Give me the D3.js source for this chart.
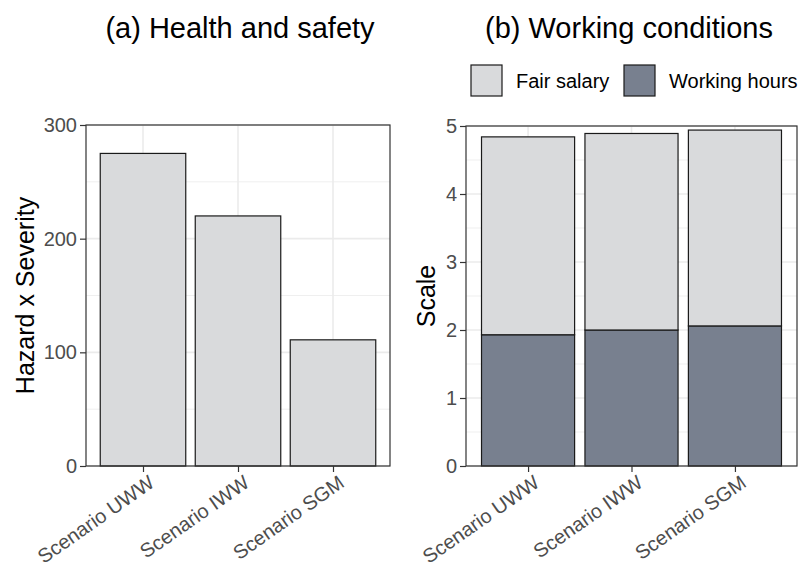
<!DOCTYPE html>
<html>
<head>
<meta charset="utf-8">
<script src="https://cdn.jsdelivr.net/npm/d3@7"></script>
<style>
  body { margin: 0; background: #fff; }
  svg text { font-family: "Liberation Sans", Arial, sans-serif; }
</style>
</head>
<body>
<div id="chart"></div>
<script>
// data
var scenarios = ["Scenario UWW", "Scenario IWW", "Scenario SGM"];
var hazardSeverity = [275, 220, 111];
var workingHours = [1.93, 2.00, 2.06];
var fairSalary = [2.91, 2.89, 2.88];
var seriesNames = ["Fair salary", "Working hours"];
var leftTicks = [0, 100, 200, 300];
var rightTicks = [0, 1, 2, 3, 4, 5];

var svgWidth = 803, svgHeight = 564;
var lightFill = "#d9dadc", darkFill = "#78808f";

var svg = d3.select("#chart").append("svg")
    .attr("width", svgWidth)
    .attr("height", svgHeight);

// draws one panel frame, grid, axes; returns scales
function drawPanel(opts) {
    var g = svg.append("g").attr("transform", `translate(${opts.left}, ${opts.top})`);
    var w = opts.width, h = opts.height;

    // 3 categories, 0.6 expansion each side, bar width 0.9
    var x = d3.scalePoint().domain(scenarios).range([0.6 * w / 3.2, w - 0.6 * w / 3.2]);
    var step = w / 3.2;
    var y = d3.scaleLinear().domain(opts.yDomain).range([h, 0]);

    // minor grid
    var minor = [];
    for (var i = 0; i < opts.ticks.length - 1; i++) minor.push((opts.ticks[i] + opts.ticks[i + 1]) / 2);
    g.selectAll(".minor").data(minor).enter().append("line")
        .attr("x1", 0).attr("x2", w)
        .attr("y1", d => y(d)).attr("y2", d => y(d))
        .attr("stroke", "#ebebeb").attr("stroke-width", 0.8);
    g.selectAll(".majorY").data(opts.ticks).enter().append("line")
        .attr("x1", 0).attr("x2", w)
        .attr("y1", d => y(d)).attr("y2", d => y(d))
        .attr("stroke", "#ebebeb").attr("stroke-width", 1.6);
    g.selectAll(".majorX").data(scenarios).enter().append("line")
        .attr("x1", d => x(d)).attr("x2", d => x(d))
        .attr("y1", 0).attr("y2", h)
        .attr("stroke", "#ebebeb").attr("stroke-width", 1.6);

    opts.drawBars(g, x, y, step * 0.9);

    // border
    g.append("rect").attr("x", 0).attr("y", 0).attr("width", w).attr("height", h)
        .attr("fill", "none").attr("stroke", "#333333").attr("stroke-width", 1.2);

    // y axis
    var yAxis = g.append("g").call(d3.axisLeft(y).tickValues(opts.ticks).tickSize(6).tickPadding(3).tickFormat(d3.format("d")));
    yAxis.select(".domain").remove();
    yAxis.selectAll("line").attr("stroke", "#333333").attr("stroke-width", 1.2);
    yAxis.selectAll("text").attr("font-size", "20px").attr("fill", "#4d4d4d")
        .attr("font-family", "Liberation Sans, Arial, sans-serif");

    // x axis
    var xAxis = g.append("g").attr("transform", `translate(0, ${h})`)
        .call(d3.axisBottom(x).tickSize(6).tickPadding(3));
    xAxis.select(".domain").remove();
    xAxis.selectAll("line").attr("stroke", "#333333").attr("stroke-width", 1.2);
    xAxis.selectAll("text")
        .attr("font-size", "20px").attr("fill", "#4d4d4d")
        .attr("font-family", "Liberation Sans, Arial, sans-serif")
        .attr("text-anchor", "end")
        .attr("dy", "0.72em")
        .attr("y", 8)
        .attr("x", 4)
        .attr("transform", "rotate(-35, 4, 8)");

    // axis title
    g.append("text")
        .attr("transform", `translate(${opts.yTitleX}, ${h / 2}) rotate(-90)`)
        .attr("text-anchor", "middle")
        .attr("font-size", "25px")
        .attr("fill", "#000")
        .text(opts.yTitle);

    // panel title
    svg.append("text")
        .attr("x", opts.titleX).attr("y", 38)
        .attr("text-anchor", "middle")
        .attr("font-size", "29px")
        .attr("fill", "#000")
        .text(opts.title);
    return { x: x, y: y };
}

// (a) health and safety
drawPanel({
    left: 86, top: 125, width: 304, height: 341,
    yDomain: [0, 300], ticks: leftTicks,
    yTitle: "Hazard x Severity", yTitleX: -52,
    title: "(a) Health and safety", titleX: 240,
    drawBars: function (g, x, y, bw) {
        g.selectAll(".bar").data(scenarios).enter().append("rect")
            .attr("x", d => x(d) - bw / 2)
            .attr("width", bw)
            .attr("y", (d, i) => y(hazardSeverity[i]))
            .attr("height", (d, i) => y(0) - y(hazardSeverity[i]))
            .attr("fill", lightFill)
            .attr("stroke", "#1a1a1a").attr("stroke-width", 1.2);
    }
});

// (b) working conditions, stacked
var stackData = scenarios.map((s, i) => ({ scenario: s, "Working hours": workingHours[i], "Fair salary": fairSalary[i] }));
var stacked = d3.stack().keys(["Working hours", "Fair salary"])(stackData);
var colour = d3.scaleOrdinal().domain(seriesNames).range([lightFill, darkFill]);

drawPanel({
    left: 466, top: 126, width: 331, height: 340,
    yDomain: [0, 5], ticks: rightTicks,
    yTitle: "Scale", yTitleX: -31,
    title: "(b) Working conditions", titleX: 629,
    drawBars: function (g, x, y, bw) {
        g.selectAll(".layer").data(stacked).enter().append("g")
            .attr("fill", d => colour(d.key))
            .selectAll("rect").data(d => d).enter().append("rect")
            .attr("x", d => x(d.data.scenario) - bw / 2)
            .attr("width", bw)
            .attr("y", d => y(d[1]))
            .attr("height", d => y(d[0]) - y(d[1]))
            .attr("stroke", "#1a1a1a").attr("stroke-width", 1.2);
    }
});

// legend
var legend = svg.append("g").attr("transform", "translate(471, 65)");
var legendX = [0, 153];
seriesNames.forEach(function (name, i) {
    var item = legend.append("g").attr("transform", `translate(${legendX[i]}, 0)`);
    item.append("rect").attr("width", 31).attr("height", 31)
        .attr("fill", colour(name)).attr("stroke", "#1a1a1a").attr("stroke-width", 1.2);
    item.append("text").attr("x", 45).attr("y", 16).attr("dy", "0.35em")
        .attr("font-size", "20px").attr("fill", "#000").text(name);
});
</script>
</body>
</html>
